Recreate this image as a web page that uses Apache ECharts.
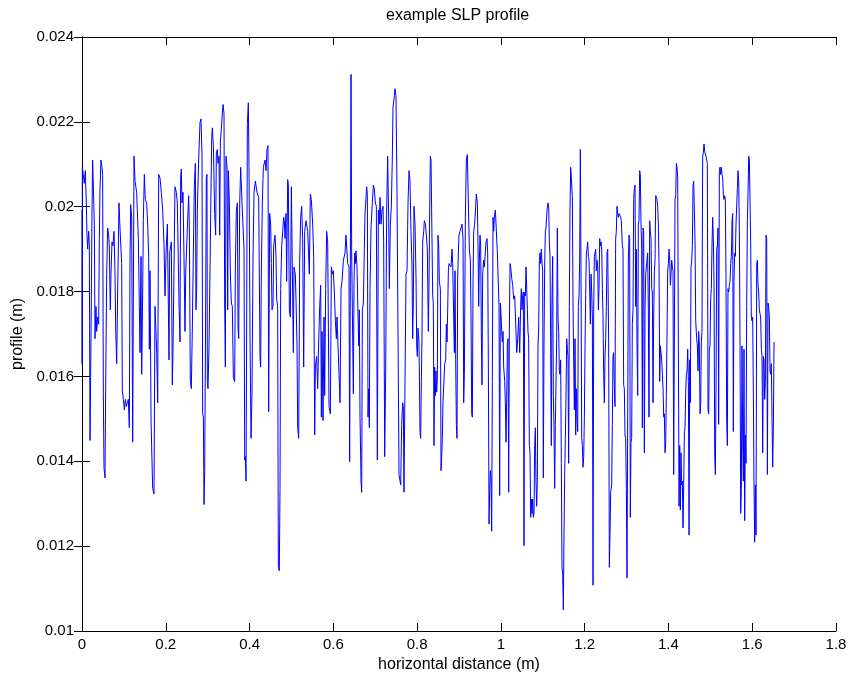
<!DOCTYPE html>
<html>
<head>
<meta charset="utf-8">
<script src="https://cdn.jsdelivr.net/npm/echarts@6/dist/echarts.min.js"></script>
<style>
  html, body { margin: 0; padding: 0; background: #ffffff; }
  #chart { width: 850px; height: 681px; }
</style>
</head>
<body>
<div id="chart"></div>
<script>
// Surface profile measured along the track: horizontal distance (m) and height (m)
const distance = [
  0.0000,0.0003,0.0008,0.0032,0.0055,0.0079,0.0103,0.0119,0.0135,0.0159,0.0175,0.0191,0.0215,0.0239,0.0254,0.0278,0.0294,0.0310,0.0334,0.0350,
  0.0374,0.0398,0.0414,0.0430,0.0453,0.0477,0.0493,0.0509,0.0525,0.0549,0.0565,0.0589,0.0613,0.0637,0.0652,0.0676,0.0692,0.0716,0.0740,0.0764,
  0.0788,0.0804,0.0828,0.0851,0.0883,0.0907,0.0947,0.0963,0.0987,0.1011,0.1035,0.1058,0.1082,0.1106,0.1130,0.1146,0.1162,0.1186,0.1210,0.1242,
  0.1266,0.1305,0.1345,0.1369,0.1385,0.1409,0.1425,0.1449,0.1464,0.1488,0.1512,0.1544,0.1568,0.1592,0.1608,0.1624,0.1648,0.1687,0.1719,0.1743,
  0.1783,0.1807,0.1831,0.1862,0.1894,0.1926,0.1958,0.1982,0.2006,0.2038,
  0.2077,0.2093,0.2133,0.2156,0.2172,0.2212,0.2220,0.2252,0.2276,0.2316,0.2340,0.2355,0.2371,0.2387,0.2411,0.2435,0.2459,0.2475,0.2515,0.2546,
  0.2562,0.2586,0.2610,0.2634,0.2658,0.2682,0.2706,0.2721,0.2737,0.2753,0.2785,0.2817,0.2841,0.2865,0.2881,0.2897,0.2913,0.2929,0.2952,0.2968,
  0.2984,0.2992,0.3008,0.3032,0.3056,0.3072,0.3096,0.3112,0.3136,0.3167,0.3191,0.3207,0.3231,0.3247,0.3271,0.3287,0.3303,0.3350,0.3366,0.3390,
  0.3406,0.3422,0.3438,0.3462,0.3478,0.3494,0.3518,0.3542,0.3565,0.3589,0.3613,0.3645,0.3661,0.3685,0.3709,0.3725,0.3741,0.3765,0.3788,0.3804,
  0.3820,0.3868,0.3884,0.3900,0.3916,0.3932,0.3947,0.3971,0.3987,0.4011,0.4035,0.4059,0.4083,0.4107,0.4138,
  0.4178,0.4218,0.4249,0.4265,0.4281,0.4305,0.4329,0.4369,0.4393,0.4417,0.4440,0.4456,0.4480,0.4504,0.4520,0.4536,0.4560,0.4576,0.4608,0.4631,
  0.4647,0.4671,0.4687,0.4711,0.4727,0.4743,0.4767,0.4791,0.4814,0.4830,0.4846,0.4870,0.4886,0.4910,0.4926,0.4950,0.4974,0.4998,0.5021,0.5045,
  0.5061,0.5093,0.5109,0.5133,0.5149,0.5173,0.5197,0.5220,0.5244,0.5268,0.5292,0.5316,0.5348,0.5388,0.5427,0.5451,0.5475,0.5507,0.5531,0.5555,
  0.5571,0.5602,0.5626,0.5650,0.5674,0.5698,0.5714,0.5730,0.5754,0.5778,0.5793,0.5817,0.5841,0.5865,0.5897,0.5929,0.5953,0.5977,0.6000,0.6024,
  0.6048,0.6072,0.6088,0.6112,0.6136,0.6160,0.6184,0.6208,0.6240,
  0.6279,0.6302,0.6326,0.6342,0.6374,0.6390,0.6406,0.6422,0.6438,0.6462,0.6478,0.6494,0.6510,0.6526,0.6541,0.6565,0.6589,0.6605,0.6621,0.6637,
  0.6661,0.6677,0.6693,0.6717,0.6740,0.6756,0.6780,0.6796,0.6812,0.6828,0.6844,0.6860,0.6876,0.6899,0.6931,0.6955,0.6979,0.7003,0.7027,0.7051,
  0.7075,0.7098,0.7114,0.7138,0.7162,0.7186,0.7202,0.7226,0.7250,0.7273,0.7297,0.7321,0.7337,0.7361,0.7385,0.7409,0.7425,0.7448,0.7472,0.7496,
  0.7520,0.7544,0.7568,0.7592,0.7608,0.7632,0.7655,0.7671,0.7687,0.7711,0.7735,0.7759,0.7783,0.7807,0.7830,0.7854,0.7878,0.7894,0.7910,0.7926,
  0.7950,0.7974,0.7990,0.8005,0.8021,0.8045,0.8069,0.8085,0.8101,0.8117,0.8133,0.8157,0.8173,0.8197,0.8221,0.8244,0.8268,0.8284,0.8300,0.8316,
  0.8332,
  0.8372,0.8387,0.8403,0.8419,0.8435,0.8451,0.8467,0.8483,0.8499,0.8515,0.8531,0.8555,0.8571,0.8587,0.8602,0.8618,0.8642,0.8658,0.8682,0.8698,
  0.8714,0.8730,0.8746,0.8762,0.8786,0.8809,0.8833,0.8849,0.8873,0.8889,0.8905,0.8921,0.8937,0.8953,0.8968,0.8984,0.9000,0.9024,0.9048,0.9072,
  0.9096,0.9112,0.9128,0.9152,0.9175,0.9199,0.9223,0.9247,0.9271,0.9287,0.9303,0.9319,0.9335,0.9351,0.9374,0.9398,0.9414,0.9438,0.9454,0.9470,
  0.9486,0.9502,0.9518,0.9533,0.9549,0.9565,0.9589,0.9605,0.9621,0.9645,0.9669,0.9685,0.9701,0.9717,0.9733,0.9749,0.9764,0.9780,0.9796,0.9812,
  0.9828,0.9844,0.9868,0.9892,0.9916,0.9940,0.9956,0.9971,0.9987,1.0003,1.0019,1.0035,1.0051,1.0067,1.0091,1.0107,1.0123,1.0139,1.0155,1.0170,
  1.0186,1.0202,1.0218,1.0234,1.0258,1.0282,1.0306,1.0330,1.0354,1.0378,1.0401,1.0425,1.0449,
  1.0472,1.0488,1.0504,1.0520,1.0536,1.0552,1.0568,1.0584,1.0600,1.0616,1.0632,1.0647,1.0663,1.0679,1.0695,1.0711,1.0727,1.0743,1.0759,1.0775,
  1.0791,1.0806,1.0822,1.0838,1.0854,1.0870,1.0886,1.0902,1.0918,1.0934,1.0950,1.0966,1.0982,1.0997,1.1013,1.1029,1.1045,1.1061,1.1077,1.1101,
  1.1125,1.1141,1.1157,1.1173,1.1189,1.1204,1.1220,1.1236,1.1252,1.1268,1.1284,1.1300,1.1316,1.1332,1.1348,1.1364,1.1380,1.1395,1.1411,1.1427,
  1.1443,1.1459,1.1475,1.1491,1.1507,1.1523,1.1539,1.1555,1.1571,1.1587,1.1602,1.1618,1.1634,1.1650,1.1666,1.1690,1.1706,1.1722,1.1738,1.1754,
  1.1770,1.1786,1.1802,1.1818,1.1834,1.1849,1.1865,1.1881,1.1897,1.1913,1.1929,1.1945,1.1961,1.1977,1.1993,1.2009,1.2024,1.2040,1.2056,1.2072,
  1.2088,1.2104,1.2120,1.2136,1.2152,1.2168,1.2184,1.2200,1.2216,1.2231,1.2247,1.2263,1.2279,1.2295,1.2311,1.2327,1.2343,1.2359,1.2375,1.2391,
  1.2407,1.2423,1.2438,1.2454,1.2470,1.2486,1.2502,1.2518,1.2534,1.2550,
  1.2573,1.2589,1.2605,1.2621,1.2645,1.2660,1.2676,1.2692,1.2708,1.2724,1.2740,1.2756,1.2772,1.2788,1.2804,1.2820,1.2844,1.2860,1.2875,1.2899,
  1.2915,1.2931,1.2947,1.2963,1.2979,1.2995,1.3011,1.3027,1.3043,1.3059,1.3074,1.3090,1.3106,1.3122,1.3138,1.3154,1.3170,1.3186,1.3202,1.3218,
  1.3234,1.3250,1.3266,1.3281,1.3297,1.3313,1.3329,1.3345,1.3361,1.3377,1.3393,1.3409,1.3425,1.3441,1.3457,1.3473,1.3488,1.3504,1.3520,1.3536,
  1.3552,1.3568,1.3584,1.3600,1.3616,1.3632,1.3648,1.3664,1.3680,1.3696,1.3711,1.3727,1.3743,1.3759,1.3775,1.3791,1.3807,1.3823,1.3839,1.3855,
  1.3871,1.3887,1.3903,1.3918,1.3934,1.3950,1.3966,1.3982,1.3998,1.4014,1.4030,1.4046,1.4062,1.4078,1.4094,1.4109,1.4125,1.4141,1.4157,1.4173,
  1.4189,1.4205,1.4221,1.4237,1.4253,1.4269,1.4285,1.4301,1.4316,1.4332,1.4348,1.4364,1.4380,1.4396,1.4412,1.4428,1.4444,1.4460,1.4476,1.4492,
  1.4508,1.4523,1.4539,1.4555,1.4571,1.4587,1.4603,1.4619,1.4635,1.4651,
  1.4674,1.4690,1.4706,1.4722,1.4738,1.4754,1.4770,1.4785,1.4801,1.4817,1.4833,1.4849,1.4865,1.4881,1.4897,1.4913,1.4929,1.4945,1.4961,1.4976,
  1.4992,1.5008,1.5024,1.5040,1.5056,1.5072,1.5088,1.5104,1.5120,1.5136,1.5152,1.5168,1.5183,1.5199,1.5215,1.5231,1.5247,1.5263,1.5279,1.5295,
  1.5311,1.5327,1.5342,1.5358,1.5374,1.5390,1.5406,1.5422,1.5438,1.5454,1.5470,1.5486,1.5502,1.5518,1.5534,1.5549,1.5565,1.5581,1.5597,1.5613,
  1.5629,1.5645,1.5661,1.5677,1.5693,1.5709,1.5725,1.5740,1.5756,1.5772,1.5788,1.5804,1.5820,1.5836,1.5852,1.5868,1.5884,1.5900,1.5916,1.5932,
  1.5947,1.5963,1.5979,1.5995,1.6011,1.6027,1.6043,1.6059,1.6075,1.6091,1.6107,1.6123,1.6138,1.6154,1.6170,1.6186,1.6202,1.6218,1.6234,1.6250,
  1.6266,1.6282,1.6298,1.6314,1.6330,1.6346,1.6362,1.6378,1.6393,1.6409,1.6425,1.6441,1.6457,1.6473,1.6489,1.6505,1.6521
];

const profile = [
  0.01992,0.01630,0.02093,0.02076,0.02055,0.02085,0.02009,0.01933,0.01900,0.01942,0.01908,0.01449,0.01689,0.01992,0.02110,0.02110,0.01959,0.01689,0.01765,0.01706,
  0.01740,0.01723,0.01925,0.02043,0.02110,0.02093,0.02076,0.01563,0.01386,0.01361,0.01571,0.01841,0.01950,0.01933,0.01908,0.01757,0.01841,0.01917,0.01908,0.01942,
  0.01841,0.01714,0.01630,0.01799,0.02009,0.01950,0.01866,0.01567,0.01546,0.01521,0.01546,0.01529,0.01538,0.01546,0.01479,0.01874,0.02005,0.01975,0.01445,0.02119,
  0.02060,0.02034,0.01925,0.01765,0.01656,0.01883,0.01605,0.01799,0.01967,0.02076,0.02017,0.02009,0.01959,0.01883,0.01664,0.01849,0.01496,0.01336,0.01323,0.01765,
  0.01656,0.01538,0.02076,0.02068,0.02034,0.01992,0.01908,0.01790,0.01891,0.01959,
  0.01639,0.01891,0.01917,0.01580,0.01656,0.01656,0.02047,0.02034,0.02009,0.01773,0.01681,0.02068,0.02089,0.02009,0.02034,0.01883,0.01706,0.01841,0.01950,0.02026,
  0.01959,0.01588,0.01571,0.01714,0.01891,0.02051,0.02102,0.01757,0.01807,0.01992,0.02110,0.02199,0.02207,0.02119,0.01512,0.01504,0.01298,0.01378,0.01757,0.02068,
  0.02076,0.01588,0.01571,0.01672,0.01849,0.01984,0.02161,0.02186,0.02144,0.01984,0.01933,0.02127,0.02135,0.02102,0.02119,0.01933,0.02152,0.02152,0.02241,0.02220,
  0.01773,0.01622,0.02119,0.02093,0.01757,0.02085,0.02009,0.01841,0.01773,0.01765,0.01597,0.01588,0.01858,0.01992,0.02009,0.01714,0.01689,0.02009,0.02093,0.02051,
  0.02009,0.01900,0.01403,0.01411,0.01353,0.01757,0.02194,0.02245,0.02093,0.01698,0.01454,0.01563,0.01883,0.02034,0.02060,
  0.02034,0.02022,0.01647,0.01622,0.01841,0.02009,0.02093,0.02110,0.02085,0.02135,0.02144,0.01517,0.01984,0.01959,0.01866,0.01757,0.01765,0.01908,0.01933,0.01883,
  0.01782,0.01765,0.01150,0.01142,0.01336,0.01807,0.01908,0.01942,0.01975,0.01967,0.01925,0.01984,0.01824,0.02064,0.02051,0.01757,0.01740,0.02047,0.01858,0.01656,
  0.01858,0.01841,0.01782,0.01672,0.01479,0.01454,0.01874,0.01975,0.02001,0.01925,0.01622,0.01942,0.01967,0.01942,0.01841,0.02030,0.02017,0.01959,0.01883,0.01462,
  0.01622,0.01647,0.01571,0.01681,0.01765,0.01815,0.01504,0.01706,0.01496,0.01740,0.01555,0.01807,0.01942,0.01917,0.01529,0.01512,0.01858,0.01841,0.01849,0.01799,
  0.01731,0.01689,0.01740,0.01672,0.01605,0.01538,0.01807,0.01824,0.01874,
  0.01891,0.01933,0.01933,0.01866,0.01858,0.01399,0.01841,0.02312,0.01891,0.01891,0.01559,0.01824,0.01891,0.01866,0.01896,0.01858,0.01858,0.01672,0.01757,0.01504,
  0.01353,0.01327,0.01757,0.01773,0.01900,0.01984,0.01984,0.02047,0.02026,0.01504,0.01571,0.01479,0.01807,0.01950,0.01950,0.02051,0.02043,0.02009,0.02001,0.01403,
  0.01992,0.01959,0.02022,0.01959,0.01992,0.02001,0.01917,0.01411,0.01613,0.01992,0.02119,0.01975,0.01807,0.01959,0.02001,0.02119,0.02236,0.02253,0.02278,0.02262,
  0.02034,0.01706,0.01369,0.01369,0.01344,0.01487,0.01538,0.01529,0.01327,0.01588,0.01841,0.01849,0.02009,0.02085,0.02060,0.01942,0.01858,0.01689,0.01773,0.02001,
  0.01959,0.01832,0.01672,0.01647,0.01714,0.01681,0.01470,0.01454,0.01588,0.01698,0.01917,0.01942,0.01967,0.01959,0.01933,0.01900,0.01706,0.01815,0.01992,0.02119,
  0.02110,
  0.01790,0.01773,0.01437,0.01622,0.01555,0.01613,0.01563,0.01597,0.01933,0.01908,0.01824,0.01807,0.01378,0.01411,0.01454,0.01538,0.01538,0.01630,0.01639,0.01723,
  0.01681,0.01757,0.01849,0.01866,0.01866,0.01858,0.01900,0.01866,0.01866,0.01656,0.01849,0.01639,0.01487,0.01454,0.01832,0.01891,0.01933,0.01942,0.01950,0.01959,
  0.01925,0.01538,0.01605,0.01975,0.02110,0.02123,0.02119,0.01900,0.01874,0.01740,0.01512,0.01504,0.01824,0.01942,0.01959,0.02001,0.02030,0.02009,0.01908,0.01765,
  0.01874,0.01933,0.01908,0.01706,0.01580,0.01841,0.01874,0.01858,0.01883,0.01917,0.01925,0.01891,0.01622,0.01252,0.01336,0.01378,0.01361,0.01235,0.01588,0.01975,
  0.01942,0.01975,0.01992,0.01992,0.01891,0.01891,0.01765,0.01319,0.01773,0.01748,0.01706,0.01681,0.01706,0.01622,0.01588,0.01538,0.01445,0.01546,0.01681,0.01689,
  0.01327,0.01706,0.01866,0.01858,0.01832,0.01815,0.01782,0.01790,0.01723,0.01656,0.01689,0.01740,0.01656,
  0.01765,0.01807,0.01757,0.01790,0.01799,0.01201,0.01799,0.01790,0.01858,0.01858,0.01757,0.01706,0.01689,0.01437,0.01420,0.01268,0.01311,0.01277,0.01311,0.01268,
  0.01277,0.01437,0.01479,0.01353,0.01294,0.01353,0.01672,0.01714,0.01874,0.01891,0.01866,0.01900,0.01866,0.01849,0.01361,0.01672,0.01858,0.01942,0.01950,0.01992,
  0.02009,0.02001,0.01917,0.01883,0.01656,0.01437,0.01782,0.01883,0.01555,0.01479,0.01336,0.01487,0.01487,0.01689,0.01950,0.01740,0.01706,0.01613,0.01605,0.01639,
  0.01395,0.01150,0.01134,0.01050,0.01226,0.01369,0.01454,0.01555,0.01689,0.01664,0.01647,0.01395,0.01765,0.01992,0.02093,0.02093,0.02026,0.01773,0.01630,0.01521,
  0.01689,0.01462,0.01571,0.01496,0.01470,0.01765,0.01790,0.01874,0.02135,0.01841,0.01454,0.01437,0.01386,0.01411,0.01504,0.01672,0.01790,0.01891,0.01900,0.01917,
  0.01883,0.01874,0.01799,0.01723,0.01841,0.01799,0.01740,0.01108,0.01757,0.01883,0.01891,0.01900,0.01849,0.01874,0.01858,0.01757,0.01807,0.01925,0.01908,0.01917,
  0.01900,0.01807,0.01740,0.01605,0.01538,0.01647,0.01689,0.01765,0.01891,0.01900,
  0.01681,0.01150,0.01226,0.01327,0.01344,0.01487,0.01647,0.01656,0.01580,0.01529,0.01925,0.01942,0.02001,0.01984,0.01975,0.01984,0.01984,0.01975,0.01967,0.01908,
  0.01900,0.01580,0.01571,0.01462,0.01454,0.01336,0.01125,0.01504,0.01874,0.01933,0.01925,0.01268,0.01445,0.01454,0.01723,0.01757,0.02017,0.02043,0.02051,0.01765,
  0.01900,0.01672,0.01555,0.01959,0.01967,0.02085,0.02076,0.01959,0.01900,0.01479,0.01950,0.01942,0.01420,0.01757,0.01841,0.01841,0.01874,0.01891,0.01757,0.01504,
  0.01967,0.01942,0.01925,0.01807,0.01799,0.01538,0.01740,0.01849,0.01874,0.02026,0.02026,0.02017,0.02001,0.01959,0.01866,0.01588,0.01672,0.01672,0.01639,0.01605,
  0.01571,0.01504,0.01512,0.01420,0.01445,0.01555,0.01555,0.01849,0.01866,0.01900,0.01874,0.01815,0.01841,0.01874,0.01858,0.01849,0.01369,0.01681,0.02017,0.02026,
  0.02102,0.02093,0.02068,0.02068,0.01294,0.01437,0.01285,0.01420,0.01344,0.01353,0.01243,0.01344,0.01470,0.01479,0.01563,0.01605,0.01613,0.01664,0.01588,0.01226,
  0.01639,0.01538,0.01858,0.01874,0.01908,0.02051,0.02060,0.01992,0.01917,0.01731,
  0.01689,0.01672,0.01613,0.01706,0.01672,0.01512,0.01538,0.01681,0.01706,0.02119,0.02127,0.02148,0.02131,0.02127,0.02119,0.02110,0.02102,0.01521,0.01512,0.01664,
  0.01672,0.01782,0.01807,0.01908,0.01975,0.01925,0.01824,0.01420,0.01369,0.01571,0.01900,0.01908,0.01950,0.01487,0.02085,0.02093,0.02076,0.02093,0.02076,0.02068,
  0.02026,0.02017,0.02026,0.02017,0.01841,0.01504,0.01437,0.01807,0.01799,0.01815,0.01824,0.01866,0.01883,0.01967,0.01984,0.01470,0.01824,0.01891,0.01883,0.01959,
  0.01959,0.02043,0.02085,0.02060,0.01942,0.01672,0.01277,0.01336,0.01672,0.01462,0.01353,0.01664,0.01260,0.01462,0.01395,0.01765,0.01967,0.02034,0.02119,0.02110,
  0.02110,0.01917,0.01740,0.01731,0.01740,0.01563,0.01336,0.01209,0.01344,0.01226,0.01866,0.01874,0.01815,0.01799,0.01757,0.01748,0.01740,0.01664,0.01647,0.01420,
  0.01647,0.01639,0.01546,0.01588,0.01933,0.01925,0.01369,0.01773,0.01765,0.01740,0.01613,0.01605,0.01630,0.01496,0.01386,0.01479,0.01681
];

// Axis ranges and tick steps
const xRange = [0, 1.8];
const xStep = 0.2;
const yRange = [0.01, 0.024];
const yStep = 0.002;

const titleText = 'example SLP profile';
const xLabel = 'horizontal distance (m)';
const yLabel = 'profile (m)';

const points = distance.map((d, i) => [d, profile[i]]);

const FONT = "'Liberation Sans', Arial, Helvetica, sans-serif";
const frame = { lineStyle: { color: '#000000', width: 1 } };
const tickIn = { inside: true, length: 8, lineStyle: { color: '#000000', width: 1 } };

const GRID = { left: 82, right: 14, top: 37, bottom: 50 };

const chart = echarts.init(document.getElementById('chart'), null, { renderer: 'canvas' });
chart.setOption({
  animation: false,
  backgroundColor: '#ffffff',
  // title centred over the plotting box rather than the whole canvas
  graphic: [{
    type: 'text',
    left: GRID.left + (850 - GRID.left - GRID.right) / 2 - 73,
    top: 8,
    style: {
      text: titleText,
      fontFamily: FONT, fontSize: 16, fill: '#000000'
    }
  }],
  grid: Object.assign({ containLabel: false }, GRID),
  xAxis: [
    {
      type: 'value', min: xRange[0], max: xRange[1], interval: xStep,
      position: 'bottom',
      name: xLabel, nameLocation: 'middle', nameGap: 23,
      nameTextStyle: { fontFamily: FONT, fontSize: 16, color: '#000000' },
      axisLine: frame, axisTick: tickIn,
      axisLabel: {
        fontFamily: FONT, fontSize: 15, color: '#000000', margin: 6,
        formatter: v => String(+v.toFixed(1))
      },
      splitLine: { show: false }
    },
    {
      type: 'value', min: xRange[0], max: xRange[1], interval: xStep,
      position: 'top',
      axisLine: frame, axisTick: tickIn,
      axisLabel: { show: false }, splitLine: { show: false }
    }
  ],
  yAxis: [
    {
      type: 'value', min: yRange[0], max: yRange[1], interval: yStep,
      position: 'left',
      name: yLabel, nameLocation: 'middle', nameGap: 56, nameRotate: 90,
      nameTextStyle: { fontFamily: FONT, fontSize: 16, color: '#000000' },
      axisLine: frame, axisTick: tickIn,
      axisLabel: {
        fontFamily: FONT, fontSize: 15, color: '#000000', margin: 8,
        formatter: v => String(+v.toFixed(3))
      },
      splitLine: { show: false }
    },
    {
      type: 'value', min: yRange[0], max: yRange[1], interval: yStep,
      position: 'right',
      axisLine: frame, axisTick: tickIn,
      axisLabel: { show: false }, splitLine: { show: false }
    }
  ],
  series: [
    {
      type: 'line',
      data: points,
      xAxisIndex: 0,
      yAxisIndex: 0,
      showSymbol: false,
      symbol: 'none',
      lineStyle: { color: '#0000ff', width: 1 },
      emphasis: { disabled: true }
    }
  ]
});
</script>
</body>
</html>
